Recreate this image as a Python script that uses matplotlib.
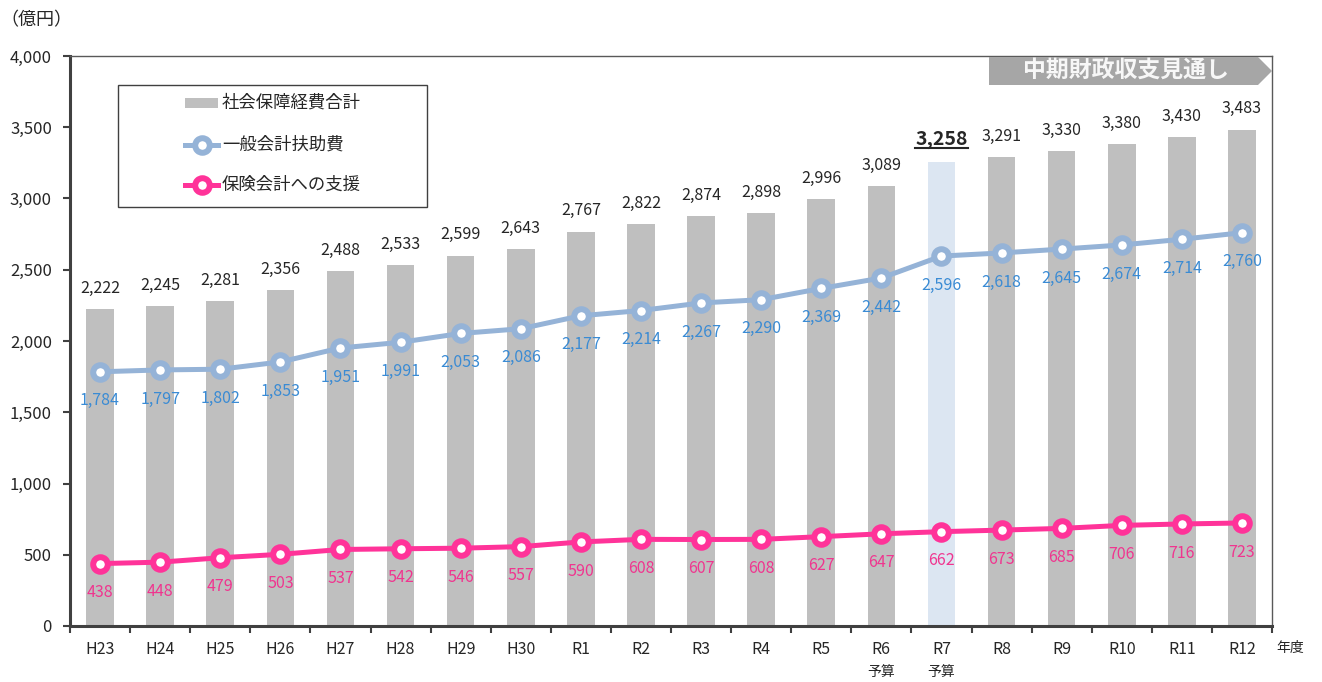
import matplotlib
matplotlib.use("Agg")
import matplotlib.pyplot as plt
from matplotlib.patches import Polygon, Rectangle
from matplotlib.lines import Line2D
from matplotlib.ticker import FuncFormatter, FixedLocator

plt.rcParams['font.family'] = ['Noto Sans CJK JP', 'DejaVu Sans']

years = ["H23", "H24", "H25", "H26", "H27", "H28", "H29", "H30", "R1", "R2",
         "R3", "R4", "R5", "R6", "R7", "R8", "R9", "R10", "R11", "R12"]
social_total = [2222, 2245, 2281, 2356, 2488, 2533, 2599, 2643, 2767, 2822,
                2874, 2898, 2996, 3089, 3258, 3291, 3330, 3380, 3430, 3483]
general_aid = [1784, 1797, 1802, 1853, 1951, 1991, 2053, 2086, 2177, 2214,
               2267, 2290, 2369, 2442, 2596, 2618, 2645, 2674, 2714, 2760]
insurance_support = [438, 448, 479, 503, 537, 542, 546, 557, 590, 608,
                     607, 608, 627, 647, 662, 673, 685, 706, 716, 723]
budget_years = ["R6", "R7"]
highlight_year = "R7"
series_names = ["社会保障経費合計", "一般会計扶助費", "保険会計への支援"]

BAR = "#bfbfbf"
BAR_HL = "#dce6f2"
BLUE = "#95b3d7"
BLUE_TXT = "#3a8bd4"
PINK = "#ff3399"
PINK_TXT = "#f0358f"
TXT = "#262626"

fig = plt.figure(figsize=(13.22, 6.82), dpi=100)
W, H = 1322, 682
ax = fig.add_axes([70 / W, 1 - 626 / H, (1272 - 70) / W, (626 - 56) / H])

x = list(range(len(years)))
colors = [BAR_HL if y == highlight_year else BAR for y in years]
ax.bar(x, social_total, width=0.46, color=colors, zorder=1)

ax.plot(x, general_aid, color=BLUE, lw=3.6, marker='o', ms=10.5,
        mfc='white', mec=BLUE, mew=4.3, zorder=3)
ax.plot(x, insurance_support, color=PINK, lw=3.6, marker='o', ms=10.5,
        mfc='white', mec=PINK, mew=4.3, zorder=4)

ax.set_xlim(-0.5, len(years) - 0.5)
ax.set_ylim(0, 4000)

# labels
hl_text = None
for i, (y, v) in enumerate(zip(years, social_total)):
    if y == highlight_year:
        hl_text = ax.annotate(f"{v:,}", (i, v), xytext=(0, 16), textcoords='offset points',
                              ha='center', va='center', fontsize=14, fontweight='bold', color=TXT)
    else:
        ax.annotate(f"{v:,}", (i, v), xytext=(0, 15), textcoords='offset points',
                    ha='center', va='center', fontsize=11.5, color=TXT)
for i, v in enumerate(general_aid):
    ax.annotate(f"{v:,}", (i, v), xytext=(0, -21), textcoords='offset points',
                ha='center', va='center', fontsize=11.5, color=BLUE_TXT)
for i, v in enumerate(insurance_support):
    ax.annotate(f"{v:,}", (i, v), xytext=(0, -21), textcoords='offset points',
                ha='center', va='center', fontsize=11.5, color=PINK_TXT)

# axes styling
for s in ['top', 'right']:
    ax.spines[s].set_color('#595959')
    ax.spines[s].set_linewidth(1.0)
for s in ['left', 'bottom']:
    ax.spines[s].set_color('#404040')
    ax.spines[s].set_linewidth(2.2)

ax.set_yticks(range(0, 4001, 500))
ax.yaxis.set_major_formatter(FuncFormatter(lambda v, p: f"{int(v):,}"))
ax.tick_params(axis='y', direction='out', length=5, width=1.5, color='#404040',
               labelsize=12, labelcolor=TXT, pad=8)

ax.set_xticks(x)
ax.set_xticklabels(years)
ax.tick_params(axis='x', which='major', length=0, labelsize=11.5, labelcolor=TXT, pad=11)
ax.xaxis.set_minor_locator(FixedLocator([i - 0.5 for i in range(len(years) + 1)]))
ax.tick_params(axis='x', which='minor', direction='out', length=5, width=1.5, color='#404040')

# 予算 under R6, R7
for y in budget_years:
    i = years.index(y)
    ax.annotate("予算", (i, 0), xycoords=('data', 'axes fraction'), xytext=(0, -34),
                textcoords='offset points', ha='center', va='center', fontsize=10, color=TXT)

fig.text(1290 / W, 1 - 648 / H, "年度", ha='center', va='center', fontsize=10, color=TXT)
fig.text(0 / W, 1 - 20 / H, "（億円）", ha='left', va='center', fontsize=13, color=TXT)

# banner
bx0, bx1, btip, by0, by1 = 989, 1258, 1272, 57, 85
pts = [(bx0, by0), (bx1, by0), (btip, (by0 + by1) / 2), (bx1, by1), (bx0, by1)]
fig.patches.append(Polygon([(px / W, 1 - py / H) for px, py in pts], closed=True,
                           transform=fig.transFigure, facecolor='#a6a6a6', edgecolor='none', zorder=5))
fig.text(1126 / W, 1 - 71 / H, "中期財政収支見通し", ha='center', va='center', fontsize=16.5,
         fontweight='bold', color='#f7f7f7', zorder=6)

# legend (drawn manually)
lx0, lx1, ly0, ly1 = 118, 427, 85, 207
fig.patches.append(Rectangle((lx0 / W, 1 - ly1 / H), (lx1 - lx0) / W, (ly1 - ly0) / H,
                             transform=fig.transFigure, facecolor='white', edgecolor='#404040',
                             lw=1.0, zorder=5))
rows = [103, 145, 185]
hx0, hx1 = 185, 218
fig.patches.append(Rectangle((hx0 / W, 1 - 108 / H), (hx1 - hx0) / W, 10 / H,
                             transform=fig.transFigure, facecolor=BAR, edgecolor='none', zorder=6))
for yy, c in [(rows[1], BLUE), (rows[2], PINK)]:
    fig.lines.append(Line2D([hx0 / W, hx1 / W], [1 - yy / H, 1 - yy / H], transform=fig.transFigure,
                            color=c, lw=3.6, zorder=6))
    fig.lines.append(Line2D([(hx0 + hx1) / 2 / W], [1 - yy / H], transform=fig.transFigure,
                            marker='o', ms=10.5, mfc='white', mec=c, mew=4.3, color=c, zorder=7))
for yy, name in zip(rows, series_names):
    fig.text(222 / W, 1 - yy / H, name, ha='left', va='center', fontsize=12.5, color=TXT, zorder=7)

# underline highlight label
fig.canvas.draw()
bb = hl_text.get_window_extent(fig.canvas.get_renderer())
uy = bb.y0 + 1
fig.lines.append(Line2D([bb.x0 / W, bb.x1 / W], [uy / H, uy / H], transform=fig.transFigure,
                        color=TXT, lw=1.5, zorder=7))

fig.savefig("out.png", dpi=100)
